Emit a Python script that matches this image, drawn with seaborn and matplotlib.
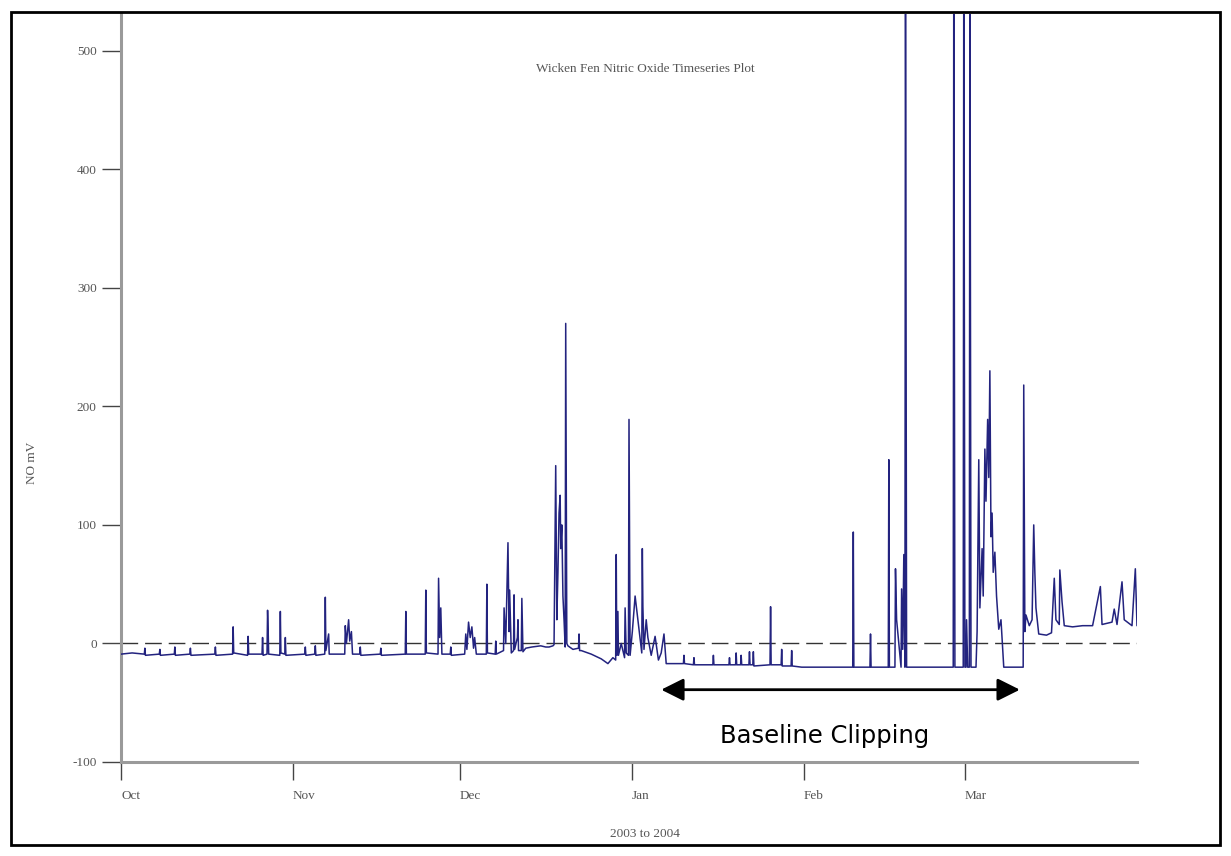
import numpy as np
import pandas as pd
import matplotlib
matplotlib.use("Agg")
import matplotlib.pyplot as plt
from matplotlib.patches import Rectangle
import seaborn as sns

sns.set_style("white")
plt.rcParams['font.family'] = ['Liberation Serif', 'DejaVu Serif']

TITLE = "Wicken Fen Nitric Oxide Timeseries Plot"
XLABEL = "2003 to 2004"
YLABEL = "NO mV"
START = "2003-10-01"
END = "2004-04-01"
MONTH_STARTS = ["2003-10-01", "2003-11-01", "2003-12-01", "2004-01-01", "2004-02-01", "2004-03-01"]
MONTH_LABELS = ["Oct", "Nov", "Dec", "Jan", "Feb", "Mar"]
YTICKS = [-100, 0, 100, 200, 300, 400, 500]

# time in days after 1 Oct 2003, NO signal in mV
days_oct = [0.0, 2.0, 4.2, 4.3, 4.4, 6.9, 7.0, 7.1, 9.6, 9.7, 9.8, 12.4, 12.5, 12.6,
            16.9, 17.0, 17.1, 20.1, 20.2, 20.3, 22.8, 22.9, 23.0, 25.4, 25.5, 25.6,
            26.3, 26.4, 26.5, 26.6, 28.6, 28.7, 28.8, 29.5, 29.6, 29.7]
vals_oct = [-9, -8, -9, -4, -10, -9, -5, -10, -9, -3, -10, -9, -4, -10,
            -9, -3, -10, -9, 14, -8, -10, 6, -9, -9, 5, -10,
            -9, 28, 12, -9, -10, 27, -8, -9, 5, -10]

days_nov = [33.1, 33.2, 33.3, 34.9, 35.0, 35.1, 36.7, 36.8, 36.9, 37.4, 37.5,
            40.3, 40.4, 40.6, 41.0, 41.2, 41.5, 41.7, 43.0, 43.1, 43.2,
            46.7, 46.8, 46.9, 51.2, 51.3, 51.4, 54.8, 54.9, 55.0,
            57.1, 57.2, 57.4, 57.6, 57.8, 59.3, 59.4, 59.5]
vals_nov = [-9, -3, -10, -9, -2, -10, -9, 39, -6, 8, -9,
            -9, 15, 0, 20, 2, 10, -9, -9, -3, -10,
            -9, -4, -10, -9, 27, -9, -9, 45, -8,
            -9, 55, 5, 30, -9, -9, -3, -10]

days_dec = [61.9, 62.1, 62.3, 62.6, 62.9, 63.2, 63.5, 63.7, 64.0,
            65.8, 65.9, 66.0, 67.4, 67.5, 67.6, 68.9, 69.0, 69.3, 69.7, 69.9, 70.0, 70.3,
            70.7, 70.8, 70.9, 71.4, 71.5, 71.6, 72.1, 72.2, 72.4,
            72.9, 74.0, 75.6, 76.5, 77.1, 77.8,
            78.0, 78.3, 78.5, 78.7, 78.9, 79.1, 79.2, 79.4, 79.6, 79.8, 80.0, 80.1, 80.3, 80.5,
            81.4, 82.4, 82.5, 82.6, 82.9, 84.7, 86.5, 87.7, 88.6, 89.1, 89.2, 89.3, 89.5, 89.6,
            90.1, 90.7, 90.8, 91.0, 91.4, 91.5, 91.6, 91.7, 92.1, 92.6, 93.1,
            93.8, 93.9, 94.0, 94.2, 94.6, 94.9, 95.5, 96.2, 96.8, 97.3, 97.8, 98.2]
vals_dec = [-9, 8, -5, 18, 5, 14, -4, 5, -9,
            -9, 50, -8, -9, 2, -9, -6, 30, 0, 85, 10, 45, -8,
            -6, 41, -5, 5, 20, -6, -6, 38, -7,
            -4, -3, -2, -3, -3, -2,
            -1, 150, 20, 60, 110, 125, 80, 100, 40, 20, -3, 270, 0, -2,
            -5, -4, 8, -6, -6, -9, -13, -17, -12, -14, 75, -10, 27, -10,
            0, -12, 30, -8, -10, 189, 84, -10, 10, 40, 20,
            -8, 80, 31, -5, 20, 5, -10, 6, -14, -8, 8, -17]

days_jan = [99.1, 101.3, 101.4, 101.5, 103.1, 103.2, 103.3, 106.6, 106.7, 106.8,
            109.5, 109.6, 109.7, 110.7, 110.8, 110.9, 111.6, 111.7, 111.8,
            113.1, 113.2, 113.3, 113.8, 113.9, 114.0, 116.9, 117.0, 117.1,
            118.9, 119.0, 119.1, 120.7, 120.8, 120.9, 122.6]
vals_jan = [-17, -17, -10, -17, -18, -12, -18, -18, -10, -18,
            -18, -12, -18, -18, -8, -18, -18, -10, -18,
            -18, -7, -18, -18, -7, -19, -18, 31, -18,
            -18, -5, -19, -19, -6, -19, -20]

days_feb = [131.8, 131.9, 132.0, 134.9, 135.0, 135.1, 138.2, 138.3, 138.4,
            139.4, 139.5, 139.7, 140.5, 140.6, 140.8, 141.0, 141.2, 141.3, 141.5,
            149.9, 150.0, 150.2, 151.7, 151.8, 152.0, 152.2, 152.3, 152.5,
            152.8, 152.9, 153.1]
vals_feb = [-20, 94, -20, -20, 8, -20, -20, 155, -20,
            -20, 63, 20, -20, 46, -5, 75, -20, 600, -20,
            -20, 600, -20, -20, 600, -20, -20, 20, -20,
            -20, 600, -20]

days_mar = [154.0, 154.2, 154.5, 154.7, 155.1, 155.3, 155.6, 155.8, 156.1, 156.3,
            156.5, 156.7, 156.9, 157.1, 157.4, 157.7, 158.1, 158.5, 159.0,
            162.5, 162.6, 162.8, 163.0, 163.6, 164.1, 164.4, 164.6, 164.8, 165.3,
            166.7, 167.6, 168.1, 168.4, 169.0, 169.1, 169.5, 169.9,
            171.4, 173.2, 175.0, 176.4, 176.7, 178.5, 178.9, 179.4,
            180.3, 180.7, 182.1, 182.7, 183.0, 183.4]
vals_mar = [-20, 10, 155, 30, 80, 40, 164, 120, 189, 140,
            230, 90, 110, 60, 77, 40, 12, 20, -20,
            -20, 218, 10, 24, 15, 20, 100, 60, 30, 8,
            7, 9, 55, 20, 16, 62, 35, 15,
            14, 15, 15, 48, 16, 18, 29, 16,
            52, 20, 15, 63, 15, 15]

days = np.array(days_oct + days_nov + days_dec + days_jan + days_feb + days_mar)
vals = np.array(vals_oct + vals_nov + vals_dec + vals_jan + vals_feb + vals_mar, dtype=float)
t0 = pd.Timestamp(START)
times = t0 + pd.to_timedelta(days, unit="D")
df = pd.DataFrame({"time": times, "NO": vals})

fig = plt.figure(figsize=(12.31, 8.56), dpi=100)
ax = fig.add_axes([121 / 1231, 1 - 762 / 856, (1137 - 121) / 1231, (762 - 14) / 856])

sns.lineplot(data=df, x="time", y="NO", ax=ax, color="#23237f", linewidth=1.1,
             estimator=None, sort=False, zorder=3)

ax.axhline(0, color="#333333", linewidth=1.0, linestyle=(0, (12, 5)), zorder=2)
ax.set_xlim(t0, pd.Timestamp(END))
ax.set_ylim(-100, 531)

ax.set_xticks([pd.Timestamp(d) for d in MONTH_STARTS])
ax.set_xticklabels(MONTH_LABELS, ha="left")
ax.set_yticks(YTICKS)
ax.set_yticklabels([str(v) for v in YTICKS])

for s in ["top", "right"]:
    ax.spines[s].set_visible(False)
for s in ["left", "bottom"]:
    ax.spines[s].set_color("#9a9a9a")
    ax.spines[s].set_linewidth(2.2)

ax.tick_params(axis="y", direction="out", length=14, width=1.0, color="#444444",
               labelsize=9.5, labelcolor="#555555", pad=3.5, left=True)
ax.tick_params(axis="x", direction="out", length=13, width=1.0, color="#444444",
               labelsize=9.5, labelcolor="#555555", pad=7, bottom=True)
ax.set_xlabel(XLABEL, fontsize=9.5, color="#555555")
ax.xaxis.set_label_coords(0.516, -0.088)
ax.set_ylabel(YLABEL, fontsize=9.5, color="#555555")
ax.yaxis.set_label_coords(-0.082, 0.40)
ax.text(0.516, 0.926, TITLE, transform=ax.transAxes, ha="center", va="center",
        fontsize=9.5, color="#555555")

# annotation
ax.annotate("", xy=(t0 + pd.Timedelta(days=161.9), -39),
            xytext=(t0 + pd.Timedelta(days=97.3), -39),
            arrowprops=dict(arrowstyle="<|-|>", color="black", lw=2.0,
                            mutation_scale=34, shrinkA=0, shrinkB=0),
            zorder=6)
ax.text(t0 + pd.Timedelta(days=126.7), -78, "Baseline Clipping",
        ha="center", va="center", fontsize=17.5, color="black", family="DejaVu Sans",
        zorder=6, clip_on=False,
        bbox=dict(boxstyle="square,pad=0.55", facecolor="white", edgecolor="none", alpha=0.6))

# outer frame
fig.patches.append(Rectangle((11 / 1231, 1 - 845 / 856), (1220 - 11) / 1231, (845 - 12) / 856,
                             transform=fig.transFigure, fill=False, edgecolor="black",
                             linewidth=2.0, zorder=10))

fig.savefig("out.png", dpi=100)
